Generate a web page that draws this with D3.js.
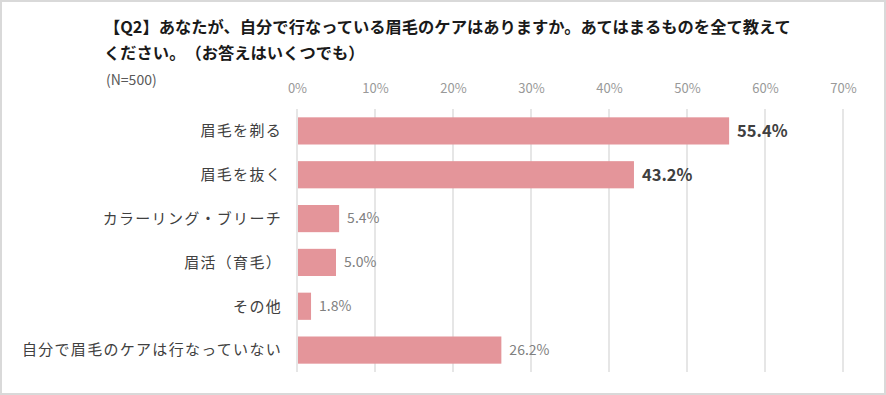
<!DOCTYPE html>
<html>
<head>
<meta charset="utf-8">
<script src="https://cdn.jsdelivr.net/npm/d3@7"></script>
<style>
  body { margin: 0; background: #fff; }
  svg text { font-family: "Noto Sans CJK JP", "Noto Sans", sans-serif; text-spacing-trim: space-all; }
</style>
</head>
<body>
<script>
// data
var categories = ["眉毛を剃る", "眉毛を抜く", "カラーリング・ブリーチ", "眉活（育毛）", "その他", "自分で眉毛のケアは行なっていない"];
var values = [55.4, 43.2, 5.4, 5.0, 1.8, 26.2];
var tickValues = [0, 10, 20, 30, 40, 50, 60, 70];
var titleLines = ["【Q2】あなたが、自分で行なっている眉毛のケアはありますか。あてはまるものを全て教えて", "ください。（お答えはいくつでも）"];
var sampleNote = "(N=500)";

var width = 886, height = 395;

var svg = d3.select("body").append("svg")
    .attr("width", width)
    .attr("height", height);

svg.append("rect")
    .attr("x", 1).attr("y", 1)
    .attr("width", width - 2).attr("height", height - 2)
    .attr("fill", "#fff")
    .attr("stroke", "#d9d9d9")
    .attr("stroke-width", 2);

var x = d3.scaleLinear().domain([0, 70]).range([297, 843]);
var y = d3.scaleBand().domain(categories).range([109, 372])
    .paddingInner(0.38).paddingOuter(0.19);

// title
svg.selectAll("text.title")
  .data(titleLines)
  .enter().append("text")
    .attr("class", "title")
    .attr("x", 104)
    .attr("y", function(d, i) { return 33 + i * 26; })
    .attr("font-size", 16.3)
    .attr("font-weight", "bold")
    .attr("fill", "#1a1a1a")
    .text(function(d) { return d; });

svg.append("text")
    .attr("x", 106).attr("y", 85)
    .attr("font-size", 14)
    .attr("fill", "#595959")
    .text(sampleNote);

// grid
svg.selectAll("line.grid")
  .data(tickValues)
  .enter().append("line")
    .attr("class", "grid")
    .attr("x1", function(d) { return x(d); })
    .attr("x2", function(d) { return x(d); })
    .attr("y1", 109).attr("y2", 372)
    .attr("stroke", "#d9d9d9")
    .attr("stroke-width", 1.3);

// top axis labels
var axis = svg.append("g")
    .attr("transform", "translate(0,93)")
    .call(d3.axisTop(x).tickValues(tickValues).tickSize(0).tickPadding(0)
      .tickFormat(function(d) { return d + "%"; }));
axis.select(".domain").remove();
axis.selectAll("text")
    .attr("font-family", "\"Noto Sans CJK JP\", sans-serif")
    .attr("font-size", 13)
    .attr("fill", "#999");

// bars
svg.selectAll("rect.bar")
  .data(values)
  .enter().append("rect")
    .attr("class", "bar")
    .attr("x", x(0) + 1)
    .attr("y", function(d, i) { return y(categories[i]); })
    .attr("width", function(d) { return x(d) - x(0) - 1; })
    .attr("height", y.bandwidth())
    .attr("fill", "#e4959a");

// category labels
svg.selectAll("text.cat")
  .data(categories)
  .enter().append("text")
    .attr("class", "cat")
    .attr("x", 282)
    .attr("y", function(d) { return y(d) + y.bandwidth() / 2; })
    .attr("dy", "0.35em")
    .attr("text-anchor", "end")
    .attr("font-size", 15)
    .attr("letter-spacing", 1.3)
    .attr("fill", "#404040")
    .text(function(d) { return d; });

// value labels
svg.selectAll("text.val")
  .data(values)
  .enter().append("text")
    .attr("class", "val")
    .attr("x", function(d) { return x(d) + 8; })
    .attr("y", function(d, i) { return y(categories[i]) + y.bandwidth() / 2; })
    .attr("dy", "0.35em")
    .attr("font-size", function(d, i) { return i < 2 ? 16.5 : 14; })
    .attr("font-weight", function(d, i) { return i < 2 ? "bold" : "normal"; })
    .attr("fill", function(d, i) { return i < 2 ? "#404040" : "#808080"; })
    .text(function(d) { return d.toFixed(1) + "%"; });
</script>
</body>
</html>
